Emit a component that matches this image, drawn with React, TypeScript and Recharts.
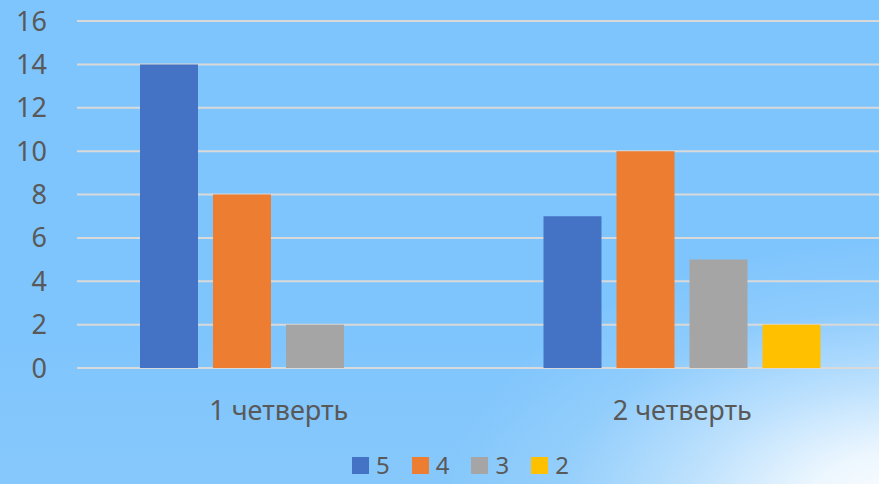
import React from 'react';
import { BarChart, Bar, XAxis, YAxis, CartesianGrid, Legend } from 'recharts';

const categories = ['1 четверть', '2 четверть'];
const grade5 = [14, 7];
const grade4 = [8, 10];
const grade3 = [2, 5];
const grade2 = [0, 2];
const yTicks = [0, 2, 4, 6, 8, 10, 12, 14, 16];

const seriesNames = ['5', '4', '3', '2'];
const seriesColors = ['#4472c4', '#ed7d31', '#a5a5a5', '#ffc000'];

const data = categories.map((c, i) => ({
  name: c,
  s5: grade5[i],
  s4: grade4[i],
  s3: grade3[i],
  s2: grade2[i],
}));

const FONT = '"Noto Sans", sans-serif';
const TEXT = '#595959';

const LegendContent = () => (
  <div style={{ display: 'flex', paddingLeft: 352, fontFamily: FONT, fontSize: 24, lineHeight: '24px', color: TEXT }}>
    {seriesNames.map((n, i) => (
      <div key={n} style={{ display: 'flex', alignItems: 'flex-start', marginRight: 22 }}>
        <div style={{ width: 17, height: 17, background: seriesColors[i], marginTop: 4 }} />
        <span style={{ marginLeft: 7 }}>{n}</span>
      </div>
    ))}
  </div>
);

export default function App() {
  return (
    <div
      style={{
        position: 'absolute',
        left: 0,
        top: 0,
        width: 879,
        height: 484,
        overflow: 'hidden',
        background:
          'radial-gradient(ellipse 470px 270px at 910px 510px, rgba(255,255,255,1) 0%, rgba(255,255,255,0.85) 22%, rgba(255,255,255,0.45) 48%, rgba(255,255,255,0.12) 75%, rgba(255,255,255,0) 100%), linear-gradient(180deg, #7fc5fd 0%, #7fc5fd 70%, #86c8fb 100%)',
      }}
    >
      <BarChart
        width={884}
        height={484}
        data={data}
        margin={{ top: 21, right: 0, left: 0, bottom: 56 }}
        barCategoryGap={63}
        barGap={15}
      >
        <CartesianGrid vertical={false} stroke="#d9d9d9" strokeWidth={2} />
        <XAxis
          dataKey="name"
          axisLine={false}
          tickLine={false}
          height={60}
          tickSize={0}
          tickMargin={33}
          tick={{ fill: TEXT, fontSize: 27, fontFamily: FONT }}
        />
        <YAxis
          domain={[0, 16]}
          ticks={yTicks}
          axisLine={false}
          tickLine={false}
          width={77}
          tickSize={0}
          tickMargin={30}
          tick={{ fill: TEXT, fontSize: 27, fontFamily: FONT }}
        />
        <Legend
          layout="horizontal"
          verticalAlign="middle"
          align="center"
          wrapperStyle={{ top: 453, left: 0, width: 879 }}
          content={<LegendContent />}
        />
        <Bar dataKey="s5" name="5" fill={seriesColors[0]} isAnimationActive={false} />
        <Bar dataKey="s4" name="4" fill={seriesColors[1]} isAnimationActive={false} />
        <Bar dataKey="s3" name="3" fill={seriesColors[2]} isAnimationActive={false} />
        <Bar dataKey="s2" name="2" fill={seriesColors[3]} isAnimationActive={false} />
      </BarChart>
    </div>
  );
}
